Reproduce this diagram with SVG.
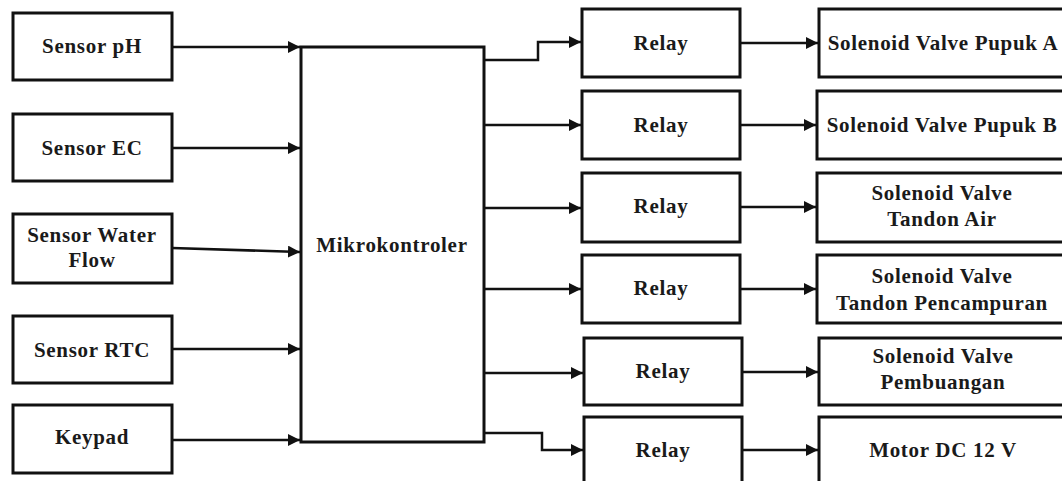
<svg xmlns="http://www.w3.org/2000/svg" width="1062" height="481" viewBox="0 0 1062 481">
<style>
.box{fill:#fff;stroke:#111;stroke-width:3}
.t{font-family:"Liberation Serif","Times New Roman",serif;font-weight:bold;font-size:21px;letter-spacing:0.7px;fill:#1a1a1a;text-anchor:middle}
.c{fill:none;stroke:#111;stroke-width:2.5}
</style>
<defs>
<marker id="ah" viewBox="0 0 10 10" refX="10" refY="5" markerWidth="12" markerHeight="12" markerUnits="userSpaceOnUse" orient="auto">
<path d="M0,0 L10,5 L0,10 z" fill="#111"/>
</marker>
</defs>
<rect width="1062" height="481" fill="#fff"/>
<g id="sensor-ph"><rect class="box" x="13" y="13" width="159" height="67"/><text class="t" x="92" y="53">Sensor pH</text></g>
<g id="sensor-ec"><rect class="box" x="13" y="114" width="159" height="67"/><text class="t" x="92" y="155">Sensor EC</text></g>
<g id="sensor-water-flow"><rect class="box" x="13" y="214" width="159" height="69"/><text class="t" x="92" y="242">Sensor Water</text><text class="t" x="92" y="267">Flow</text></g>
<g id="sensor-rtc"><rect class="box" x="13" y="316" width="159" height="67"/><text class="t" x="92" y="357">Sensor RTC</text></g>
<g id="keypad"><rect class="box" x="13" y="405" width="159" height="68"/><text class="t" x="92" y="444">Keypad</text></g>
<g id="mikrokontroler"><rect class="box" x="301" y="47" width="183" height="395"/><text class="t" x="392" y="252">Mikrokontroler</text></g>
<g id="relay1"><rect class="box" x="582" y="9" width="158" height="68"/><text class="t" x="661" y="50">Relay</text></g>
<g id="relay2"><rect class="box" x="582" y="91" width="158" height="68"/><text class="t" x="661" y="132">Relay</text></g>
<g id="relay3"><rect class="box" x="582" y="173" width="158" height="69"/><text class="t" x="661" y="213">Relay</text></g>
<g id="relay4"><rect class="box" x="582" y="255" width="158" height="68"/><text class="t" x="661" y="295">Relay</text></g>
<g id="relay5"><rect class="box" x="584" y="338" width="158" height="67"/><text class="t" x="663" y="378">Relay</text></g>
<g id="relay6"><rect class="box" x="584" y="417" width="158" height="80"/><text class="t" x="663" y="457">Relay</text></g>
<g id="valve-pupuk-a"><rect class="box" x="819" y="9" width="250" height="68"/><text class="t" x="943" y="50">Solenoid Valve Pupuk A</text></g>
<g id="valve-pupuk-b"><rect class="box" x="817" y="91" width="252" height="68"/><text class="t" x="942" y="132">Solenoid Valve Pupuk B</text></g>
<g id="valve-tandon-air"><rect class="box" x="817" y="173" width="252" height="69"/><text class="t" x="942" y="200">Solenoid Valve</text><text class="t" x="942" y="226">Tandon Air</text></g>
<g id="valve-tandon-pencampuran"><rect class="box" x="817" y="255" width="252" height="68"/><text class="t" x="942" y="283">Solenoid Valve</text><text class="t" x="942" y="310">Tandon Pencampuran</text></g>
<g id="valve-pembuangan"><rect class="box" x="819" y="338" width="250" height="67"/><text class="t" x="943" y="363">Solenoid Valve</text><text class="t" x="943" y="389">Pembuangan</text></g>
<g id="motor-dc"><rect class="box" x="819" y="417" width="250" height="80"/><text class="t" x="943" y="457">Motor DC 12 V</text></g>
<g id="connectors">
<path class="c" d="M172,47 H300" marker-end="url(#ah)"/>
<path class="c" d="M172,148 H300" marker-end="url(#ah)"/>
<path class="c" d="M172,248 L300,252" marker-end="url(#ah)"/>
<path class="c" d="M172,349 H300" marker-end="url(#ah)"/>
<path class="c" d="M172,440 H300" marker-end="url(#ah)"/>
<path class="c" d="M484,60 H538 V42 H581" marker-end="url(#ah)"/>
<path class="c" d="M484,125 H581" marker-end="url(#ah)"/>
<path class="c" d="M484,208 H581" marker-end="url(#ah)"/>
<path class="c" d="M484,289 H581" marker-end="url(#ah)"/>
<path class="c" d="M484,373 H583" marker-end="url(#ah)"/>
<path class="c" d="M484,433 H542 V450 H583" marker-end="url(#ah)"/>
<path class="c" d="M740,43 H818" marker-end="url(#ah)"/>
<path class="c" d="M740,125 H816" marker-end="url(#ah)"/>
<path class="c" d="M740,207 H816" marker-end="url(#ah)"/>
<path class="c" d="M740,289 H816" marker-end="url(#ah)"/>
<path class="c" d="M742,372 H818" marker-end="url(#ah)"/>
<path class="c" d="M742,450 H818" marker-end="url(#ah)"/>
</g>
</svg>
